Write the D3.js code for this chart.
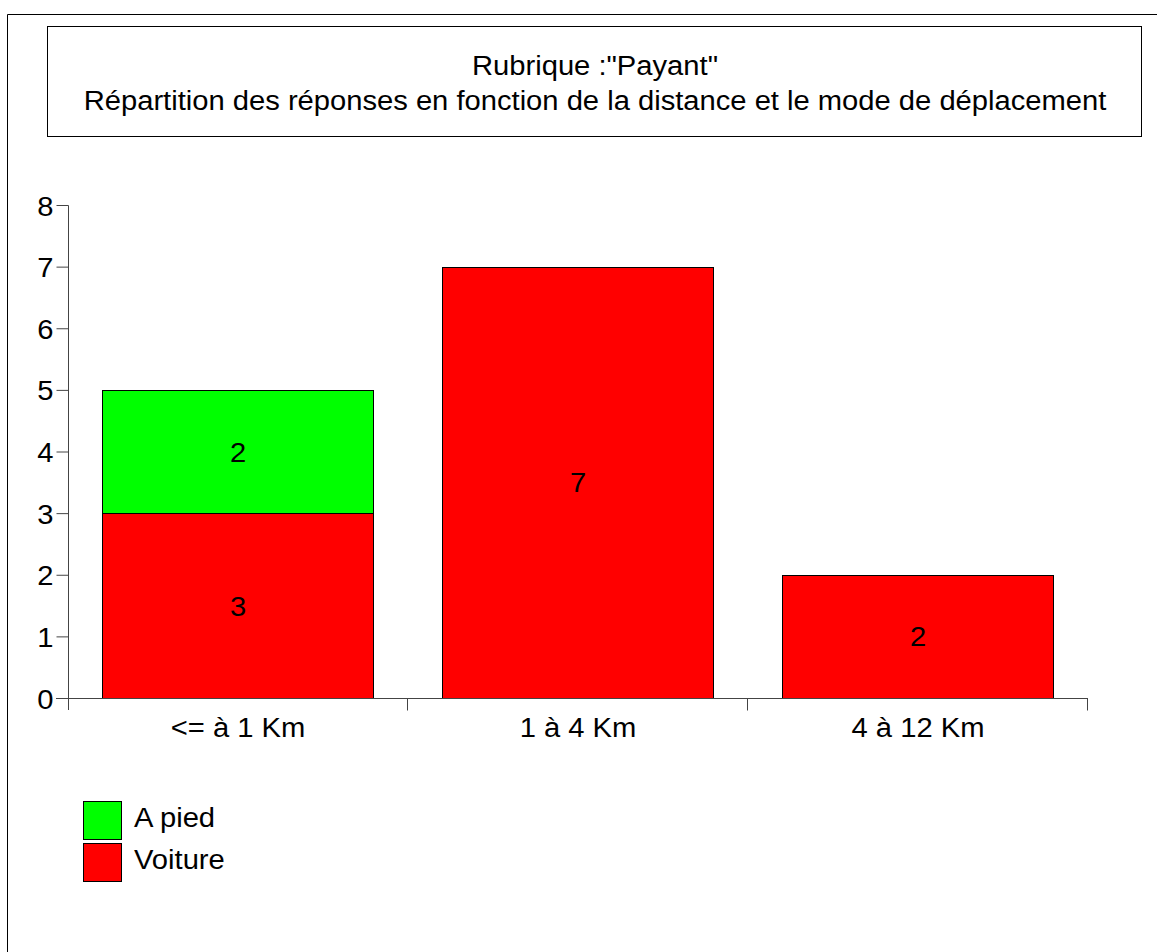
<!DOCTYPE html>
<html><head><meta charset="utf-8">
<script src="https://cdn.jsdelivr.net/npm/d3@7"></script>
<style>body{margin:0;background:#fff}svg{display:block;font-family:"Liberation Sans",Arial,sans-serif}</style>
</head><body><svg id="c" width="1157" height="952"></svg>
<script>
const categories = ["<= à 1 Km", "1 à 4 Km", "4 à 12 Km"];
const seriesNames = ["Voiture", "A pied"];
const voiture = [3, 7, 2];
const aPied = [2, 0, 0];
const yTicks = [0,1,2,3,4,5,6,7,8];
const colors = {"Voiture":"#ff0000","A pied":"#00ff00"};
const titleLines = ['Rubrique :"Payant"', "Répartition des réponses en fonction de la distance et le mode de déplacement"];

const FS = 27, SX = 1.08;
const svg = d3.select("#c");
function txt(sel, xf, yf, anchor){
  return sel.attr("transform",(d,i)=>`translate(${xf(d,i)},${yf(d,i)}) scale(${SX},1)`)
    .attr("text-anchor",anchor).attr("font-size",FS).attr("fill","#000");
}
// outer frame
svg.append("path").attr("d","M7.5,952 V14.5 H1157").attr("fill","none").attr("stroke","#000").attr("stroke-width",1);
// title box
svg.append("rect").attr("x",47.5).attr("y",26.5).attr("width",1094).attr("height",110).attr("fill","#fff").attr("stroke","#000");
txt(svg.selectAll("text.title").data(titleLines).join("text").attr("class","title"),
  ()=>595, (d,i)=>75+i*34.5, "middle").text(d=>d);

const x = d3.scaleBand().domain(categories).range([68,1088]).paddingInner(0.2).paddingOuter(0.1);
const y = d3.scaleLinear().domain([0,8]).range([698,205]);

const data = categories.map((c,i)=>({cat:c,"Voiture":voiture[i],"A pied":aPied[i]}));
const stacked = d3.stack().keys(seriesNames)(data);

const g = svg.append("g");
stacked.forEach(s=>{
  g.selectAll(null).data(s.filter(d=>d[1]-d[0]>0)).join("rect")
    .attr("x",d=>Math.round(x(d.data.cat))+0.5).attr("width",Math.round(x.bandwidth())-1)
    .attr("y",d=>Math.round(y(d[1]))+0.5).attr("height",d=>Math.round(y(d[0]))-Math.round(y(d[1])))
    .attr("fill",colors[s.key]).attr("stroke","#000").attr("stroke-width",1);
  txt(g.selectAll(null).data(s.filter(d=>d[1]-d[0]>0)).join("text"),
    d=>x(d.data.cat)+x.bandwidth()/2, d=>(y(d[0])+y(d[1]))/2+10, "middle").text(d=>d[1]-d[0]);
});

// y axis
const ya = svg.append("g").attr("transform","translate(68.5,0)")
  .call(d3.axisLeft(y).tickValues(yTicks).tickSize(12).tickPadding(3).tickFormat(d3.format("d")));
ya.select(".domain").attr("d","M0,205.5 V710").attr("stroke","#444");
ya.selectAll(".tick line").attr("stroke","#444");
ya.selectAll(".tick text").attr("x",null).attr("dy",null)
  .attr("transform",`translate(-15,10) scale(${SX},1)`)
  .attr("font-size",FS).attr("font-family","Liberation Sans, Arial, sans-serif").attr("fill","#000");

// x axis
const xa = svg.append("g").attr("transform","translate(0,698.5)");
xa.append("line").attr("x1",56).attr("x2",1088).attr("y1",0).attr("y2",0).attr("stroke","#444");
const bounds = categories.map(c=>x(c)+x.bandwidth()+x.step()*x.paddingInner()/2);
bounds[bounds.length-1]=x.range()[1];
xa.selectAll("line.t").data(bounds).join("line").attr("class","t")
  .attr("x1",d=>Math.round(d)-0.5).attr("x2",d=>Math.round(d)-0.5).attr("y1",0).attr("y2",12).attr("stroke","#444");
txt(xa.selectAll("text").data(categories).join("text"),
  d=>x(d)+x.bandwidth()/2, ()=>38, "middle").text(d=>d);

// legend
const leg = ["A pied","Voiture"];
const lg = svg.append("g");
lg.selectAll("rect").data(leg).join("rect").attr("x",83.5).attr("y",(d,i)=>801.5+i*42).attr("width",38).attr("height",38)
  .attr("fill",d=>colors[d]).attr("stroke","#000");
txt(lg.selectAll("text").data(leg).join("text"), ()=>134, (d,i)=>827+i*42, "start").text(d=>d);
</script></body></html>
